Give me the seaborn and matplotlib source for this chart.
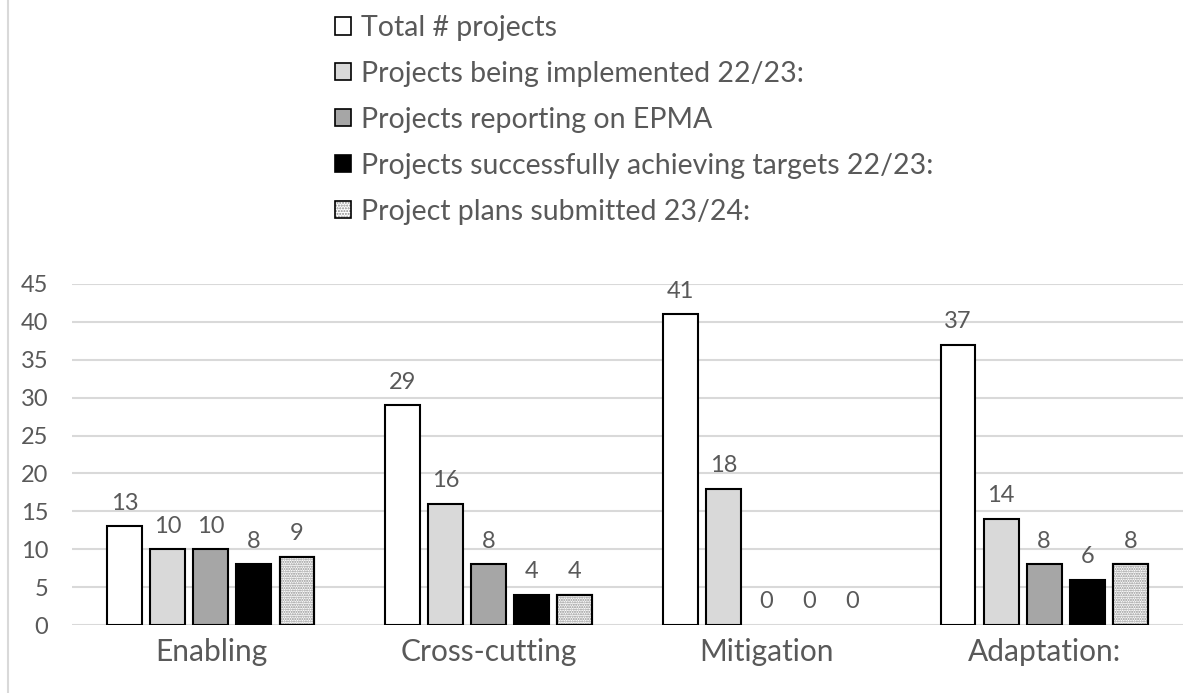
import pandas as pd
import matplotlib.pyplot as plt
import seaborn as sns
from matplotlib.patches import Patch, Rectangle
from matplotlib.lines import Line2D
from matplotlib.legend_handler import HandlerTuple

# Chart data
categories = ['Enabling', 'Cross-cutting', 'Mitigation', 'Adaptation:']
series = [
    'Total # projects',
    'Projects being implemented 22/23:',
    'Projects reporting on EPMA',
    'Projects successfully achieving targets 22/23:',
    'Project plans submitted 23/24:',
]
total_projects = [13, 29, 41, 37]
implemented = [10, 16, 18, 14]
reporting_epma = [10, 8, 0, 8]
achieving_targets = [8, 4, 0, 6]
plans_submitted = [9, 4, 0, 8]
y_ticks = [0, 5, 10, 15, 20, 25, 30, 35, 40, 45]

values = [total_projects, implemented, reporting_epma, achieving_targets, plans_submitted]
rows = []
for name, vals in zip(series, values):
    for cat, v in zip(categories, vals):
        rows.append({'category': cat, 'series': name, 'count': v})
df = pd.DataFrame(rows)

sns.set_style('white')
plt.rcParams['font.family'] = ['Lato', 'DejaVu Sans']
text_color = '#595959'
grid_color = '#d9d9d9'
colors = ['#ffffff', '#d9d9d9', '#a6a6a6', '#000000', '#ffffff']

fig = plt.figure(figsize=(11.98, 6.93), dpi=100)
ax = fig.add_axes([72 / 1198, 68 / 693, 1111 / 1198, 341 / 693])

sns.barplot(data=df, x='category', y='count', hue='series', palette=colors,
            edgecolor='black', linewidth=1.5, width=0.775, gap=0.19,
            legend=False, ax=ax)

# empty bars show no outline
for c in ax.containers:
    for p in c:
        if p.get_height() == 0:
            p.set_linewidth(0)

# dotted fill for the last series, drawn on top of the white bars
for p in ax.containers[4]:
    if p.get_height() == 0:
        continue
    ax.add_patch(Rectangle(p.get_xy(), p.get_width(), p.get_height(),
                           fill=False, hatch='.......', edgecolor='#8c8c8c',
                           linewidth=0, zorder=p.get_zorder() + 0.1))
    ax.add_patch(Rectangle(p.get_xy(), p.get_width(), p.get_height(),
                           fill=False, edgecolor='black', linewidth=1.5,
                           zorder=p.get_zorder() + 0.2))

# data labels
for c in ax.containers:
    ax.bar_label(c, padding=9, fontsize=17, color=text_color)

ax.set_ylim(0, 45)
ax.set_yticks(y_ticks)
ax.set_xlabel('')
ax.set_ylabel('')
ax.tick_params(axis='y', length=0, pad=17, labelsize=17, labelcolor=text_color)
ax.tick_params(axis='x', length=0, pad=9, labelsize=21.5, labelcolor=text_color)
ax.grid(axis='y', color=grid_color, linewidth=1.5)
ax.set_axisbelow(True)
for s in ax.spines.values():
    s.set_visible(False)

# frame line on the left edge
fig.add_artist(Line2D([7.5 / 1198, 7.5 / 1198], [0, 1], color=grid_color,
                      linewidth=1.5, transform=fig.transFigure))

handles = [
    Patch(facecolor='#ffffff', edgecolor='black', linewidth=1.2),
    Patch(facecolor='#d9d9d9', edgecolor='black', linewidth=1.2),
    Patch(facecolor='#a6a6a6', edgecolor='black', linewidth=1.2),
    Patch(facecolor='#000000', edgecolor='black', linewidth=1.2),
    (Patch(facecolor='#ffffff', edgecolor='#8c8c8c', hatch='......', linewidth=0),
     Patch(fill=False, edgecolor='black', linewidth=1.2)),
]
fig.legend(handles, series, loc='upper left', bbox_to_anchor=(335 / 1198, 1 - 15 / 693),
           frameon=False, fontsize=20.5, labelcolor=text_color,
           handlelength=0.55, handleheight=0.55, handletextpad=0.35,
           labelspacing=0.7, borderpad=0, borderaxespad=0,
           handler_map={tuple: HandlerTuple(ndivide=1, pad=0)})

plt.savefig('out.png', dpi=100)
